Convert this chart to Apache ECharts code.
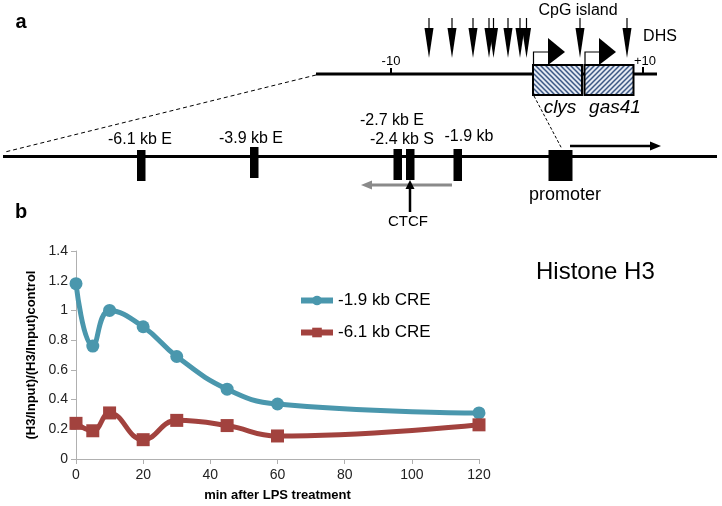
<!DOCTYPE html>
<html>
<head>
<meta charset="utf-8">
<script src="https://cdn.jsdelivr.net/npm/echarts@6/dist/echarts.min.js"></script>
<style>
html,body{margin:0;padding:0;background:#fff;}
#c{width:722px;height:506px;}
</style>
</head>
<body>
<div id="c"></div>
<script>
// ---- chart data (panel b) ----
var minutes = [0, 5, 10, 20, 30, 45, 60, 120];
var cre19 = [1.18, 0.76, 1.00, 0.89, 0.69, 0.47, 0.37, 0.31];
var cre61 = [0.24, 0.19, 0.31, 0.13, 0.26, 0.225, 0.155, 0.23];
var seriesNames = ['-1.9 kb CRE', '-6.1 kb CRE'];
var xTicks = [0, 20, 40, 60, 80, 100, 120];
var yTicks = [0, 0.2, 0.4, 0.6, 0.8, 1.0, 1.2, 1.4];

// ---- diagram labels (panel a) ----
var elementLabels = ['-6.1 kb E', '-3.9 kb E', '-2.7 kb E', '-2.4 kb S', '-1.9 kb'];
var geneNames = ['clys', 'gas41'];

var FONT = '"Liberation Sans", Arial, sans-serif';
var NARROW = '"Liberation Sans Narrow", "Liberation Sans", Arial, sans-serif';

function hatch(dir) {
  var s = 5;
  var c = document.createElement('canvas');
  c.width = s; c.height = s;
  var g = c.getContext('2d');
  g.fillStyle = '#e4e9f2';
  g.fillRect(0, 0, s, s);
  g.strokeStyle = '#3b5784';
  g.lineWidth = 1.5;
  g.beginPath();
  if (dir > 0) {
    g.moveTo(0, s); g.lineTo(s, 0);
    g.moveTo(-1, 1); g.lineTo(1, -1);
    g.moveTo(s - 1, s + 1); g.lineTo(s + 1, s - 1);
  } else {
    g.moveTo(0, 0); g.lineTo(s, s);
    g.moveTo(-1, s - 1); g.lineTo(1, s + 1);
    g.moveTo(s - 1, -1); g.lineTo(s + 1, 1);
  }
  g.stroke();
  return {type: 'pattern', image: c, repeat: 'repeat'};
}

var G = [];
function txt(t, x, y, size, opts) {
  opts = opts || {};
  G.push({type: 'text', x: x, y: y, silent: true, style: {
    text: t, fill: '#000', align: opts.align || 'center', verticalAlign: 'middle',
    font: (opts.style || '') + ' ' + (opts.weight || 'normal') + ' ' + size + 'px ' + (opts.family || FONT)
  }});
}
function line(x1, y1, x2, y2, w, color, dash) {
  G.push({type: 'line', silent: true, shape: {x1: x1, y1: y1, x2: x2, y2: y2},
    style: {stroke: color || '#000', lineWidth: w, lineDash: dash || null}});
}
function poly(points, color) {
  G.push({type: 'polygon', silent: true, shape: {points: points}, style: {fill: color || '#000'}});
}
function rect(x, y, w, h, fill, stroke, lw) {
  G.push({type: 'rect', silent: true, shape: {x: x, y: y, width: w, height: h},
    style: {fill: fill, stroke: stroke || null, lineWidth: lw || 0}});
}

// panel letters
txt('a', 21, 22, 20, {weight: 'bold'});
txt('b', 21, 212, 20, {weight: 'bold'});

// upper locus
line(316, 74, 657, 74, 3);
line(391, 68, 391, 74, 2);
txt('-10', 391, 61, 13);
line(643, 67, 643, 74, 2);
txt('+10', 645, 61, 13);
rect(533, 65, 49, 30, hatch(-1), '#000', 2);
rect(584.5, 65, 49, 30, hatch(1), '#000', 2);
// TSS bent arrows
G.push({type: 'polyline', silent: true, shape: {points: [[533.5, 64], [533.5, 52], [549, 52]]}, style: {stroke: '#000', lineWidth: 1.2, fill: null}});
poly([[548, 38], [565, 52], [548, 65]]);
G.push({type: 'polyline', silent: true, shape: {points: [[585, 64], [585, 52], [600, 52]]}, style: {stroke: '#000', lineWidth: 1.2, fill: null}});
poly([[599, 38], [616, 52], [599, 65]]);
// DHS arrows
var dhsX = [429, 452, 473, 489, 493.5, 508, 520, 526.5, 580, 627];
dhsX.forEach(function (x) {
  line(x, 18, x, 30, 1.2);
  poly([[x - 4.5, 28], [x + 4.5, 28], [x, 58]]);
});
txt('CpG island', 578, 11, 16);
txt('DHS', 660, 37, 16);
txt(geneNames[0], 560, 108, 19, {style: 'italic'});
txt(geneNames[1], 615, 108, 19, {style: 'italic'});
// zoom dashed lines
line(316, 75, 5, 152, 1, '#000', [4, 3]);
line(534, 96, 562, 149, 1, '#000', [3, 2]);

// lower locus
line(3, 156.5, 717, 156.5, 3);
rect(137, 150, 8.5, 31, '#000');
rect(250, 147, 8.5, 31, '#000');
rect(393.5, 149, 8.5, 31, '#000');
rect(406, 149, 8.5, 31, '#000');
rect(453.5, 149, 8.5, 32, '#000');
rect(548.5, 150, 24, 31, '#000');
txt(elementLabels[0], 140, 140, 16);
txt(elementLabels[1], 251, 138.5, 16);
txt(elementLabels[2], 392, 121, 16);
txt(elementLabels[3], 402, 140, 16);
txt(elementLabels[4], 469, 137, 16);
txt('promoter', 565, 195, 18);
txt('CTCF', 408, 222, 15);
// transcription arrow
line(570, 146, 652, 146, 2.5);
poly([[650, 141.5], [661, 146], [650, 150.5]]);
// gray arrow
line(452, 185, 370, 185, 3, '#8a8a8a');
poly([[372, 180.5], [361, 185], [372, 189.5]], '#8a8a8a');
// CTCF arrow
line(410, 212, 410, 186, 2.5);
poly([[405.5, 189], [410, 180], [414.5, 189]]);

var blue = '#4a97ad';
var red = '#a2423e';

var option = {
  animation: false,
  backgroundColor: '#fff',
  title: {
    text: 'Histone H3', left: 531, top: 255,
    textStyle: {fontFamily: FONT, fontSize: 24, fontWeight: 'normal', color: '#000'}
  },
  legend: {
    orient: 'vertical', left: 293, top: 287, itemGap: 15, itemWidth: 32, itemHeight: 12,
    data: seriesNames,
    lineStyle: {width: 6},
    textStyle: {fontFamily: FONT, fontSize: 17, color: '#000'}
  },
  grid: {left: 76, right: 243, top: 251, bottom: 47},
  xAxis: {
    type: 'value', min: xTicks[0], max: xTicks[xTicks.length - 1], interval: 20,
    name: 'min after LPS treatment', nameLocation: 'middle', nameGap: 30,
    nameTextStyle: {fontFamily: NARROW, fontWeight: 'bold', fontSize: 13, color: '#000'},
    axisLine: {lineStyle: {color: '#b0b0b0', width: 1}},
    axisTick: {show: true, length: 5, lineStyle: {color: '#b0b0b0'}},
    axisLabel: {fontFamily: NARROW, fontSize: 14, color: '#222', margin: 9},
    splitLine: {show: false}
  },
  yAxis: {
    type: 'value', min: yTicks[0], max: yTicks[yTicks.length - 1], interval: 0.2,
    name: '(H3/Input)/(H3/Input)control', nameLocation: 'middle', nameGap: 21,
    nameTextStyle: {fontFamily: FONT, fontWeight: 'bold', fontSize: 13, color: '#000'},
    axisLine: {show: true, lineStyle: {color: '#b0b0b0', width: 1}},
    axisTick: {show: true, length: 5, lineStyle: {color: '#b0b0b0'}},
    axisLabel: {fontFamily: NARROW, fontSize: 14, color: '#222', margin: 8},
    splitLine: {show: false}
  },
  series: [
    {
      name: seriesNames[0], type: 'line', smooth: 0.45,
      data: minutes.map(function (m, i) { return [m, cre19[i]]; }),
      symbol: 'circle', symbolSize: 13,
      lineStyle: {color: blue, width: 5},
      itemStyle: {color: blue}
    },
    {
      name: seriesNames[1], type: 'line', smooth: 0.45,
      data: minutes.map(function (m, i) { return [m, cre61[i]]; }),
      symbol: 'rect', symbolSize: 13,
      lineStyle: {color: red, width: 5},
      itemStyle: {color: red}
    }
  ],
  graphic: G
};

var chart = echarts.init(document.getElementById('c'), null, {renderer: 'canvas'});
chart.setOption(option);
</script>
</body>
</html>
